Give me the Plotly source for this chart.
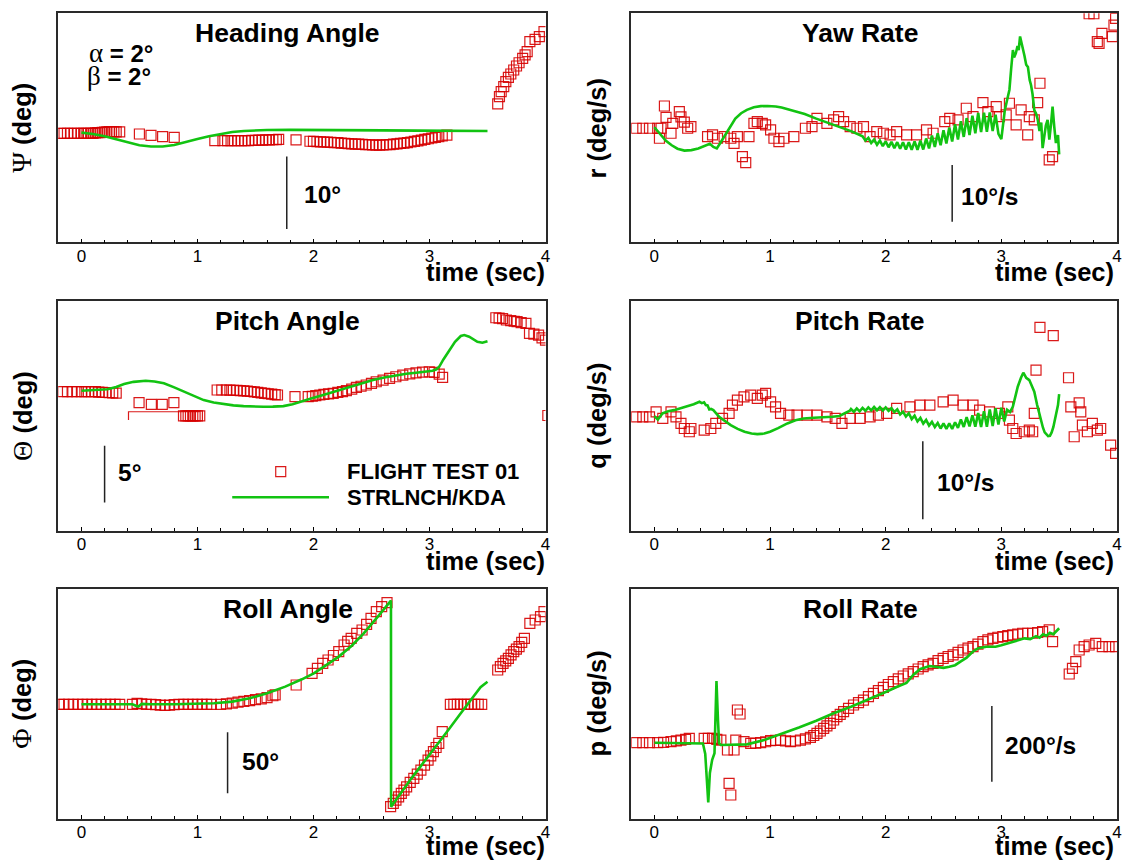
import plotly.graph_objects as go

# ================= DATA =================
# ---- Heading angle (deg) ----
psi_ft_t = [-0.18, -0.15, -0.12, -0.09, -0.06, -0.03, 0.0, 0.02, 0.04, 0.06, 0.08, 0.10, 0.12, 0.14, 0.16, 0.18,
            0.20, 0.22, 0.24, 0.26, 0.28, 0.30, 0.33,
            0.50, 0.60, 0.70, 0.80,
            1.15, 1.22, 1.26, 1.29, 1.32, 1.35, 1.38, 1.41, 1.44, 1.47, 1.50, 1.53, 1.56, 1.59, 1.62, 1.65, 1.68, 1.70,
            1.85,
            1.97, 2.00, 2.03, 2.06, 2.09, 2.12, 2.15, 2.18, 2.21, 2.24, 2.27, 2.30, 2.33, 2.36, 2.39, 2.42, 2.45, 2.48,
            2.51, 2.54, 2.57, 2.60, 2.63, 2.66, 2.69, 2.72, 2.75, 2.78, 2.81, 2.84, 2.87, 2.90, 2.93, 2.96, 2.99, 3.02,
            3.05, 3.08, 3.11, 3.15,
            3.588, 3.603, 3.618, 3.640, 3.658, 3.680, 3.701, 3.726, 3.750, 3.772, 3.803, 3.824, 3.842, 3.865, 3.910,
            3.947, 3.987]
psi_ft = [0.0, 0.0, 0.0, 0.0, 0.0, 0.0, 0.0, 0.0, 0.0, 0.0, 0.0, 0.0, 0.05, 0.08, 0.1, 0.12,
          0.15, 0.2, 0.22, 0.22, 0.22, 0.2, 0.2,
          -0.1, -0.28, -0.46, -0.55,
          -1.0, -1.0, -1.0, -1.0, -1.0, -1.0, -1.0, -1.0, -1.0, -0.98, -0.97, -0.95, -0.94, -0.92, -0.9, -0.88, -0.86, -0.85,
          -0.9,
          -1.1, -1.12, -1.15, -1.18, -1.2, -1.22, -1.25, -1.28, -1.3, -1.35, -1.38, -1.42, -1.45, -1.48, -1.5, -1.52,
          -1.55, -1.58, -1.6, -1.62, -1.62, -1.6, -1.58, -1.55, -1.5, -1.45, -1.4, -1.35, -1.28, -1.2, -1.12, -1.05,
          -0.95, -0.85, -0.75, -0.65, -0.55, -0.45, -0.35, -0.25,
          4.04, 5.04, 5.73, 6.42, 7.11, 7.71, 8.17, 8.72, 9.27, 9.72, 10.33, 10.79, 11.24, 12.62, 12.95, 13.31, 14.0]
psi_sim_t = [0.0, 0.1, 0.2, 0.3, 0.4, 0.5, 0.6, 0.7, 0.8, 0.9, 1.0, 1.1, 1.2, 1.3, 1.4, 1.5, 1.6, 1.8, 2.0, 2.3,
             2.6, 2.9, 3.2, 3.5]
psi_sim = [0.09, -0.1, -0.4, -0.85, -1.3, -1.65, -1.83, -1.82, -1.62, -1.25, -0.8, -0.4, -0.08, 0.17, 0.32, 0.41,
           0.45, 0.47, 0.47, 0.44, 0.40, 0.36, 0.33, 0.32]

# ---- Yaw rate (deg/s) ----
r_ft_t = [-0.157, -0.1, -0.042, 0.029, 0.044, 0.058, 0.087, 0.101, 0.144, 0.159, 0.216, 0.230, 0.259, 0.288, 0.316,
          0.46, 0.503, 0.546, 0.603, 0.661, 0.689, 0.718, 0.761, 0.79, 0.818, 0.861, 0.89, 0.933, 0.962, 1.005,
          1.034, 1.077, 1.12, 1.206, 1.306, 1.363, 1.406, 1.492, 1.55, 1.593, 1.636, 1.693, 1.751, 1.808, 1.865,
          1.923, 1.98, 2.038, 2.095, 2.181, 2.267, 2.353, 2.41, 2.511, 2.554, 2.626, 2.697, 2.755, 2.841, 2.884,
          2.956, 2.984, 3.042, 3.07, 3.128, 3.171, 3.228, 3.242, 3.285, 3.314, 3.334, 3.414, 3.443,
          3.759, 3.80, 3.83, 3.845, 3.87, 3.96, 3.974, 3.988]
r_ft = [0.0, 0.0, 0.0, 0.0, -1.76, 0.0, 3.93, 1.94, -0.88, 0.88, 2.93, 2.0, 1.1, 0.0, 0.3,
        -1.47, -1.18, -1.76, -1.47, -1.76, -2.65, -1.47, -5.0, -6.06, -1.47, 0.88, 1.18, 0.88, 0.59, -0.29,
        -1.76, -2.35, -1.76, -1.47, 0.0, 0.29, 1.76, 0.88, 1.47, 2.06, 1.18, 0.29, 0.0, 0.29, -1.47,
        -0.59, -0.88, -1.18, -0.59, -1.18, -1.18, -0.29, -0.88, 1.18, 1.76, 1.47, 3.53, 2.06, 4.53, 2.94,
        3.82, 2.06, 2.35, 4.41, 0.59, 3.24, -1.18, 2.06, 1.47, 4.53, 7.94, -5.59, -5.0,
        20.2, 20.2, 15.28, 14.98, 16.75, 16.16, 18.2, 19.4]
r_sim_t = [0.0, 0.05, 0.1, 0.15, 0.2, 0.26, 0.32, 0.38, 0.44, 0.48, 0.51, 0.54, 0.57, 0.62, 0.66, 0.7, 0.75, 0.8,
           0.86, 0.92, 0.98, 1.05, 1.1, 1.2, 1.3, 1.4, 1.5, 1.6, 1.7,
           1.800, 1.825, 1.850, 1.875, 1.900, 1.925, 1.950, 1.975, 2.000, 2.025, 2.050, 2.075, 2.100, 2.125, 2.150,
           2.175, 2.200, 2.225, 2.250, 2.275, 2.300, 2.325, 2.350, 2.375, 2.400, 2.425, 2.450, 2.475, 2.500, 2.525,
           2.550, 2.575, 2.600, 2.625, 2.650, 2.675, 2.700, 2.725, 2.750, 2.775, 2.800, 2.825, 2.850, 2.875, 2.900,
           2.925, 2.950, 2.975, 3.000,
           3.015, 3.03, 3.05, 3.07, 3.085, 3.1, 3.11, 3.125, 3.14, 3.15, 3.162, 3.175, 3.19, 3.2, 3.215, 3.23, 3.245,
           3.257, 3.27, 3.285, 3.3, 3.315, 3.33, 3.345, 3.357, 3.37, 3.385, 3.4, 3.415, 3.43, 3.443, 3.458, 3.472,
           3.49, 3.5]
r_sim = [0.18, -1.0, -2.2, -3.0, -3.6, -3.94, -3.85, -3.55, -3.1, -2.75, -3.3, -3.55, -2.6, -1.0, 0.5, 1.7, 2.65,
         3.25, 3.7, 3.9, 3.94, 3.85, 3.65, 3.1, 2.5, 1.7, 1.0, 0.3, -0.5,
         -1.4, -2.17, -1.7, -2.6, -2.0, -2.9, -2.15, -3.15, -2.3, -3.35, -2.4, -3.5, -2.45, -3.62, -2.45,
         -3.73, -2.45, -3.78, -2.3, -3.8, -2.2, -3.75, -1.8, -3.55, -1.3, -3.3, -0.9, -3.0, -0.35, -2.68,
         0.15, -2.32, 0.7, -1.98, 1.25, -1.52, 1.8, -1.2, 2.2, -0.9, 2.7, -0.68, 2.75, -0.6, 2.8,
         -0.5, 2.4, -1.0, -1.9,
         0.5, 3.2, 5.0, 6.8, 10.5, 13.8, 12.5, 13.2, 14.5, 13.8, 16.2, 14.8, 13.2, 12.8, 11.2, 10.8, 8.5,
         7.6, 6.0, 3.2, 2.6, 1.5, -0.5, 1.0, -3.5, -1.5, 0.5, 1.5, -2.0, 0.8, 3.8, 0.2, -2.6,
         -1.2, -4.6]

# ---- Pitch angle (deg) ----
th_ft_t = [-0.16, -0.12, -0.08, -0.04, 0.0, 0.03, 0.06, 0.09, 0.12, 0.15, 0.18, 0.21, 0.24, 0.27, 0.30,
           0.497, 0.603, 0.697, 0.797,
           0.88, 0.90, 0.92, 0.94, 0.96, 0.98, 1.00, 1.02,
           1.17, 1.21, 1.25, 1.28, 1.31, 1.34, 1.37, 1.40, 1.43, 1.46, 1.49, 1.52, 1.55, 1.58, 1.61, 1.64, 1.67, 1.69,
           1.841,
           1.955, 1.99, 2.02, 2.055, 2.09, 2.13, 2.17, 2.21, 2.25, 2.284, 2.33, 2.37, 2.41, 2.455, 2.5, 2.541, 2.6,
           2.656, 2.71, 2.77, 2.83, 2.884, 2.94, 2.998, 3.04, 3.084, 3.113,
           3.572, 3.6, 3.63, 3.663, 3.7, 3.73, 3.755, 3.79, 3.831, 3.862, 3.9, 3.94, 3.97, 4.0, 4.02]
th_ft = [0.0, 0.0, 0.0, 0.0, 0.0, 0.0, 0.0, 0.0, 0.0, -0.03, -0.05, -0.07, -0.08, -0.1, -0.12,
         -0.97, -1.12, -1.12, -0.97,
         -2.14, -2.14, -2.14, -2.14, -2.14, -2.14, -2.14, -2.14,
         0.15, 0.15, 0.15, 0.14, 0.13, 0.12, 0.1, 0.08, 0.05, 0.02, -0.02, -0.06, -0.1, -0.14, -0.18, -0.22, -0.26, -0.29,
         -0.44,
         -0.44, -0.4, -0.35, -0.29, -0.24, -0.2, -0.15, -0.06, 0.0, 0.09, 0.22, 0.38, 0.48, 0.59, 0.74, 0.88, 1.02,
         1.18, 1.32, 1.47, 1.58, 1.67, 1.72, 1.76, 1.7, 1.56, 1.27,
         6.53, 6.5, 6.45, 6.33, 6.27, 6.22, 6.18, 6.1, 6.03, 5.15, 5.08, 5.0, 4.75, 4.56, -2.1]
th_edge_t = [0.406, 0.406, 1.02]
th_edge = [-2.5, -1.77, -1.77]
th_sim_t = [0.0, 0.1, 0.225, 0.3, 0.368, 0.45, 0.554, 0.63, 0.711, 0.8, 0.883, 0.97, 1.054, 1.14, 1.226, 1.31,
            1.398, 1.48, 1.569, 1.65, 1.741, 1.82, 1.884, 1.98, 2.084, 2.2, 2.313, 2.41, 2.513, 2.61, 2.713, 2.8,
            2.884, 2.96, 3.027, 3.06, 3.084, 3.12, 3.17, 3.22, 3.27, 3.30, 3.342, 3.38, 3.413, 3.456, 3.5]
th_sim = [0.09, 0.12, 0.21, 0.42, 0.68, 0.87, 0.97, 0.9, 0.74, 0.38, 0.0, -0.38, -0.74, -0.96, -1.12, -1.21,
          -1.27, -1.31, -1.33, -1.32, -1.27, -1.1, -0.88, -0.6, -0.29, 0.08, 0.44, 0.75, 1.03, 1.26, 1.47, 1.58,
          1.67, 1.75, 1.85, 1.98, 2.2, 2.85, 3.68, 4.4, 4.92, 5.0, 4.86, 4.6, 4.41, 4.32, 4.45]

# ---- Pitch rate (deg/s) ----
q_ft_t = [-0.157, -0.1, -0.042, 0.015, 0.073, 0.144, 0.187, 0.23, 0.259, 0.302, 0.316, 0.431, 0.488, 0.531, 0.589,
          0.646, 0.675, 0.718, 0.775, 0.833, 0.89, 0.933, 0.962, 1.005, 1.048, 1.091, 1.163, 1.234, 1.32, 1.406,
          1.492, 1.564, 1.622, 1.693, 1.779, 1.865, 1.937, 2.009, 2.095, 2.21, 2.296, 2.382, 2.497, 2.583, 2.669,
          2.755, 2.812, 2.898, 2.984, 3.056, 3.07, 3.099, 3.128, 3.199, 3.242, 3.271, 3.285, 3.3, 3.334, 3.449,
          3.581, 3.601, 3.673, 3.687, 3.63, 3.701, 3.744, 3.787, 3.83, 3.859, 3.945, 3.988]
q_ft = [0.0, 0.0, 0.0, 0.64, -0.21, 0.64, 0.0, -0.85, -1.5, -1.92, -1.5, -1.71, -1.5, -0.85, -0.21,
        0.43, 1.5, 2.14, 2.56, 2.78, 2.35, 2.78, 2.99, 1.92, 1.28, 0.43, 0.21, 0.21, 0.21, 0.21,
        0.0, -0.21, -0.85, -0.21, -0.21, 0.0, 0.21, 0.43, 1.07, 1.28, 1.5, 1.5, 1.92, 2.14, 1.5,
        1.5, 0.85, 0.64, 0.43, 1.28, -0.43, -1.5, -2.14, -1.92, -1.71, -1.92, 0.43, 5.99, 11.46, 10.39,
        5.0, 1.28, 1.79, 0.64, -2.56, -1.07, -1.92, -0.85, -1.71, -1.5, -3.63, -4.7]
q_sim_t = [0.0, 0.03, 0.07, 0.12, 0.17, 0.23, 0.29, 0.34, 0.39, 0.41, 0.43, 0.445, 0.46, 0.475, 0.49, 0.51, 0.56,
           0.61, 0.66, 0.72, 0.78, 0.84, 0.89, 0.95, 1.0, 1.07, 1.15, 1.22, 1.29, 1.38, 1.46, 1.54, 1.6, 1.65, 1.69,
           1.700, 1.725, 1.750, 1.775, 1.800, 1.825, 1.850, 1.875, 1.900, 1.925, 1.950, 1.975, 2.000, 2.025, 2.050,
           2.075, 2.100, 2.125, 2.150, 2.175, 2.200, 2.225, 2.250, 2.275, 2.300, 2.325, 2.350, 2.375, 2.400, 2.425,
           2.450, 2.475, 2.500, 2.525, 2.550, 2.575, 2.600, 2.625, 2.650, 2.675, 2.700, 2.725, 2.750, 2.775, 2.800,
           2.825, 2.850, 2.875, 2.900, 2.925, 2.950, 2.975, 3.000, 3.025,
           3.05, 3.075, 3.1, 3.12, 3.142, 3.17, 3.19, 3.2, 3.215, 3.242, 3.265, 3.285, 3.31, 3.33, 3.343, 3.36,
           3.375, 3.39, 3.405, 3.42, 3.435, 3.45, 3.465, 3.48, 3.49, 3.5]
q_sim = [0.09, -0.34, 0.43, 0.7, 0.85, 1.1, 1.37, 1.6, 1.92, 1.75, 1.85, 1.5, 1.45, 0.94, 1.0, 0.85, 0.0,
         -0.55, -1.07, -1.55, -1.92, -2.15, -2.22, -2.15, -1.92, -1.45, -0.85, -0.45, -0.21, -0.12, -0.09, 0.0, 0.1,
         0.5, 0.77,
         1.0, 0.64, 1.07, 0.7, 1.14, 0.77, 1.2, 0.82, 1.25, 0.84, 1.23, 0.81, 1.2, 0.75, 1.1,
         0.6, 0.95, 0.3, 0.65, 0.02, 0.45, -0.3, 0.15, -0.6, -0.15, -0.88, -0.4, -1.13, -0.65, -1.32,
         -0.8, -1.5, -0.85, -1.55, -0.85, -1.55, -0.7, -1.43, -0.35, -1.3, -0.05, -1.23, 0.2, -1.26, 0.48,
         -1.31, 0.7, -1.27, 0.95, -1.18, 1.1, -0.98, 1.15, -0.6,
         0.9, 0.6, 1.3, 2.4, 3.85, 5.0, 5.64, 5.4, 5.0, 4.7, 3.9, 3.21, 1.5, 0.2, -0.43, -1.4,
         -2.0, -2.3, -2.48, -2.45, -2.0, -1.3, -0.3, 0.8, 1.5, 2.9]

# ---- Roll angle (deg) ----
phi_ft_t = [-0.19, -0.15, -0.11, -0.07, -0.03, 0.01, 0.05, 0.09, 0.13, 0.17, 0.21, 0.25, 0.29, 0.33,
            0.44, 0.48, 0.52, 0.56, 0.60, 0.64, 0.68, 0.72, 0.76, 0.80, 0.84, 0.88, 0.92, 0.96, 1.00, 1.04, 1.08, 1.12,
            1.20, 1.25, 1.30, 1.35, 1.40, 1.45, 1.50, 1.55, 1.60, 1.65, 1.67,
            1.851,
            1.988, 2.034, 2.08, 2.126, 2.172, 2.218, 2.264, 2.295, 2.325, 2.373, 2.419, 2.458, 2.496, 2.542, 2.588,
            2.634,
            2.665, 2.688, 2.711, 2.734, 2.757, 2.78, 2.803, 2.834, 2.865, 2.895, 2.926, 2.957, 2.988, 3.011, 3.034,
            3.057, 3.08, 3.11,
            3.18, 3.21, 3.24, 3.27, 3.30, 3.33, 3.36, 3.39, 3.42, 3.45,
            3.588, 3.611, 3.634, 3.657, 3.68, 3.703, 3.726, 3.749, 3.772, 3.795, 3.818, 3.865, 3.911, 3.957, 3.987]
phi_ft = [0.0, 0.0, 0.0, 0.0, 0.0, 0.0, 0.0, 0.0, 0.0, 0.0, 0.0, 0.0, 0.0, 0.0,
          0.0, 0.8, 0.4, 0.0, 0.0, -0.3, -0.6, -1.0, -0.6, -0.3, 0.0, 0.0, 0.0, 0.0, 0.0, 0.0, 0.0, 0.0,
          0.0, 0.4, 1.0, 1.7, 2.4, 3.0, 3.8, 4.5, 5.5, 7.0, 7.8,
          15.8,
          25.4, 29.5, 33.6, 36.3, 40.0, 43.2, 48.6, 51.5, 54.1, 58.2, 60.9, 65.5, 70.5, 75.9, 80.0,
          83.3,
          -83.9, -81.2, -78.5, -75.8, -73.0, -70.3, -67.6, -64.0, -60.7, -57.3, -53.9, -49.8, -45.7, -42.2, -38.8,
          -35.4, -32.0, -22.4,
          0.0, 0.0, 0.0, 0.0, 0.0, 0.0, 0.0, 0.0, 0.0, 0.0,
          28.1, 30.9, 33.6, 35.6, 37.7, 40.5, 43.2, 45.2, 47.3, 50.7, 54.1, 66.4, 69.1, 71.8, 75.9]
phi_sim_t = [0.0, 0.2, 0.44, 0.47, 0.49, 0.52, 0.6, 0.8, 1.0, 1.143, 1.3, 1.45, 1.6, 1.757, 1.9, 2.003, 2.1, 2.218,
             2.33, 2.433, 2.555, 2.668, 2.669, 2.75, 2.834, 2.91, 2.988, 3.08, 3.172, 3.26, 3.356, 3.44, 3.5]
phi_sim = [0.0, 0.0, 0.0, -1.2, -1.9, 0.3, 0.0, 0.0, 0.2, 0.8, 2.2, 4.9, 9.0, 14.5, 20.5, 25.4, 31.5, 39.1,
           48.0, 58.2, 71.9, 85.0, -84.0, -73.0, -62.1, -52.5, -43.0, -31.5, -19.8, -8.5, 3.5, 14.0, 18.5]

# ---- Roll rate (deg/s) ----
p_ft_t = [-0.157, -0.1, -0.042, 0.029, 0.08, 0.144, 0.19, 0.23, 0.27, 0.302, 0.431, 0.467, 0.503, 0.54, 0.575,
          0.632, 0.689, 0.646, 0.661, 0.718, 0.741, 0.704, 0.775, 0.833, 0.876, 0.919, 0.962, 1.005, 1.048, 1.091,
          1.134, 1.177, 1.22, 1.263, 1.306, 1.349, 1.378, 1.406, 1.435, 1.464, 1.492, 1.521, 1.55, 1.579, 1.607,
          1.636, 1.679, 1.722, 1.765, 1.808, 1.851, 1.894, 1.937, 1.98, 2.023, 2.066, 2.109, 2.152, 2.195, 2.238,
          2.281, 2.324, 2.367, 2.41, 2.453, 2.497, 2.54, 2.583, 2.626, 2.669, 2.712, 2.755, 2.798, 2.841, 2.884,
          2.927, 2.97, 3.013, 3.056, 3.099, 3.142, 3.185, 3.228, 3.271, 3.314, 3.357, 3.414, 3.443,
          3.587, 3.615, 3.644, 3.673, 3.716, 3.759, 3.816, 3.873, 3.931, 3.988]
p_ft = [0.0, 0.0, 0.0, 0.0, 1.0, 2.6, 5.0, 7.0, 9.0, 11.5, 11.5, 11.5, 11.5, 9.0, 7.0,
        -19.3, -19.3, -107.4, -138.3, 86.5, 75.9, 7.0, 2.6, -1.8, -1.0, 0.0, 2.5, 5.3, 6.0, 7.0,
        5.0, 2.6, 4.5, 7.0, 10.0, 14.1, 19.0, 24.7, 31.0, 37.9, 44.5, 51.1, 60.0, 68.8, 75.0,
        82.0, 91.0, 99.7, 106.0, 112.9, 122.0, 130.6, 138.0, 146.5, 154.0, 161.5, 169.0, 176.5, 182.0, 188.0,
        195.0, 201.2, 206.0, 210.0, 217.0, 223.3, 228.0, 232.1, 239.0, 245.3, 250.0, 254.1, 261.0, 267.4, 272.0,
        276.2, 279.0, 280.6, 283.0, 285.0, 287.0, 289.5, 289.5, 289.5, 291.5, 293.9, 298.3, 267.4,
        181.7, 196.7, 214.4, 245.3, 254.1, 258.5, 262.9, 254.1, 254.1, 254.1]
p_sim_t = [0.0, 0.1, 0.2, 0.3, 0.4, 0.42, 0.44, 0.466, 0.48, 0.50, 0.52, 0.537, 0.55, 0.56, 0.575, 0.65, 0.8, 0.95,
           1.1, 1.25, 1.4, 1.55, 1.7, 1.85, 2.0, 2.1, 2.18, 2.24, 2.3, 2.38, 2.45, 2.5, 2.55, 2.6, 2.65, 2.7, 2.75,
           2.8, 2.87, 2.95, 3.0, 3.05, 3.1, 3.15, 3.2, 3.25, 3.3, 3.33, 3.36, 3.39, 3.42, 3.45, 3.48, 3.5]
p_sim = [0.0, 0.0, 0.0, 0.0, 0.0, -2.0, -30.0, -157.7, -80.0, -45.0, -28.0, 163.2, 60.0, -1.8, -6.2, -5.5, -4.4, 7.0,
         23.0, 40.0, 58.0, 78.0, 95.0, 114.0, 134.0, 148.0, 158.0, 180.0, 195.0, 203.0, 201.0, 198.0, 201.0, 205.0,
         215.0, 225.0, 240.0, 250.0, 254.0, 254.0, 258.0, 263.0, 267.0, 271.0, 276.0, 274.0, 282.0, 278.0, 287.0,
         283.0, 291.0, 287.0, 296.0, 302.7]

# ================= STYLE / LAYOUT =================
FONT = "Liberation Sans, Arial, Helvetica, sans-serif"
SERIF = "Liberation Serif, Times New Roman, serif"
RED = "rgba(214,0,0,0.9)"
GREEN = "#12c312"

xdom = {"L": [0.0520, 0.4875], "R": [0.5641, 0.9982]}
ydom = {1: [0.7184, 0.98455], 2: [0.38362, 0.65006], 3: [0.04936, 0.31591]}

panels = [
    dict(col="L", row=1, title="Heading Angle", sym="Ψ", unit="(deg)", yr=[-15.04, 16.53],
         ft=(psi_ft_t, psi_ft), sim=(psi_sim_t, psi_sim), bar=(1.77, -3.2, -13.2), lab=("10°", 1.903, -8.5)),
    dict(col="R", row=1, title="Yaw Rate", sym="r", unit="(deg/s)", yr=[-20.14, 20.28],
         ft=(r_ft_t, r_ft), sim=(r_sim_t, r_sim), bar=(2.575, -6.47, -16.47), lab=("10°/s", 2.633, -12.06)),
    dict(col="L", row=2, title="Pitch Angle", sym="Θ", unit="(deg)", yr=[-12.27, 7.98],
         ft=(th_ft_t, th_ft), sim=(th_sim_t, th_sim), bar=(0.2, -4.77, -9.77), lab=("5°", 0.298, -7.15)),
    dict(col="R", row=2, title="Pitch Rate", sym="q", unit="(deg/s)", yr=[-14.6, 14.8],
         ft=(q_ft_t, q_ft), sim=(q_sim_t, q_sim), bar=(2.321, -3.12, -13.12), lab=("10°/s", 2.424, -8.46)),
    dict(col="L", row=3, title="Roll Angle", sym="Φ", unit="(deg)", yr=[-93.6, 94.5],
         ft=(phi_ft_t, phi_ft), sim=(phi_sim_t, phi_sim), bar=(1.26, -22.95, -72.95), lab=("50°", 1.365, -46.5)),
    dict(col="R", row=3, title="Roll Rate", sym="p", unit="(deg/s)", yr=[-200.5, 406.6],
         ft=(p_ft_t, p_ft), sim=(p_sim_t, p_sim), bar=(2.918, 97.1, -103.2), lab=("200°/s", 3.013, -7.9)),
]

fig = go.Figure()
layout = dict(width=1124, height=861, margin=dict(l=0, r=0, t=0, b=0),
              paper_bgcolor="white", plot_bgcolor="white", showlegend=False,
              font=dict(family=FONT, color="black"))
annotations = []
shapes = []

for i, p in enumerate(panels, start=1):
    xa = "x" if i == 1 else f"x{i}"
    ya = "y" if i == 1 else f"y{i}"
    sfx = "" if i == 1 else str(i)
    layout["xaxis" + sfx] = dict(
        domain=xdom[p["col"]], anchor=ya, range=[-0.2, 4.0],
        tickvals=[0, 1, 2, 3, 4], ticktext=["0", "1", "2", "3", "4"],
        ticks="inside", ticklen=4, tickwidth=1, tickcolor="black", ticklabelstandoff=-3,
        minor=dict(dtick=0.2, tick0=0, ticks="inside", ticklen=3, tickwidth=1, tickcolor="black"),
        showline=True, mirror=True, linecolor="#2a2a2a", linewidth=1.5,
        showgrid=False, zeroline=False, tickfont=dict(size=17, family=FONT, color="black"))
    layout["yaxis" + sfx] = dict(
        domain=ydom[p["row"]], anchor=xa, range=p["yr"],
        showticklabels=False, ticks="", showline=True, mirror=True,
        linecolor="#2a2a2a", linewidth=1.5, showgrid=False, zeroline=False)

    # flight test squares
    fig.add_trace(go.Scatter(x=p["ft"][0], y=p["ft"][1], xaxis=xa, yaxis=ya, mode="markers",
                             marker=dict(symbol="square-open", size=10, color=RED, line=dict(width=1.2, color=RED)),
                             name="FLIGHT TEST 01", hoverinfo="skip"))
    if i == 3:
        fig.add_trace(go.Scatter(x=th_edge_t, y=th_edge, xaxis=xa, yaxis=ya, mode="lines",
                                 line=dict(color=RED, width=1.2), hoverinfo="skip"))
    # simulation line
    fig.add_trace(go.Scatter(x=p["sim"][0], y=p["sim"][1], xaxis=xa, yaxis=ya, mode="lines",
                             line=dict(color=GREEN, width=2.6), name="STRLNCH/KDA", hoverinfo="skip"))

    # title
    annotations.append(dict(text="<b>%s</b>" % p["title"], xref=xa, x=1.78, yref=ya + " domain", y=1,
                            yshift=-20, xanchor="center", yanchor="middle", showarrow=False,
                            font=dict(size=26.5, family=FONT, color="black")))
    # time label
    annotations.append(dict(text="<b>time (sec)</b>", xref=xa + " domain", x=1, yref=ya + " domain", y=0,
                            xshift=(1 if p["col"] == "L" else -1), yshift=(-27 if p["row"] == 3 else -30),
                            xanchor="right", yanchor="middle", showarrow=False,
                            font=dict(size=25.5, family=FONT, color="black")))
    # y title
    if p["sym"] in ("Ψ", "Θ", "Φ"):
        ytxt = "<span style='font-family:%s;font-size:28px'>%s</span> <b>%s</b>" % (SERIF, p["sym"], p["unit"])
    else:
        ytxt = "<b>%s %s</b>" % (p["sym"], p["unit"])
    yd = ydom[p["row"]]
    annotations.append(dict(text=ytxt, xref="paper", x=(22 / 1124 if p["col"] == "L" else 599.4 / 1124),
                            yref="paper", y=(yd[0] + yd[1]) / 2, textangle=-90, xanchor="center",
                            yanchor="middle", showarrow=False, font=dict(size=25.5, family=FONT, color="black")))
    # scale bar
    bt, b0, b1 = p["bar"]
    shapes.append(dict(type="line", xref=xa, yref=ya, x0=bt, x1=bt, y0=b0, y1=b1,
                       line=dict(color="#222222", width=1.5)))
    lt, lx, ly = p["lab"]
    annotations.append(dict(text="<b>%s</b>" % lt, xref=xa, x=lx, yref=ya, y=ly, xanchor="left",
                            yanchor="middle", showarrow=False, font=dict(size=24.5, family=FONT, color="black")))

# alpha / beta labels
annotations.append(dict(text="<span style='font-family:%s;font-size:27px'>α</span><b> = 2°</b>" % SERIF,
                        xref="paper", x=87 / 1124, yref="paper", y=1 - 53 / 861, xanchor="left",
                        yanchor="middle", showarrow=False, font=dict(size=24, family=FONT, color="black")))
annotations.append(dict(text="<span style='font-family:%s;font-size:27px'>β</span><b> = 2°</b>" % SERIF,
                        xref="paper", x=85 / 1124, yref="paper", y=1 - 76 / 861, xanchor="left",
                        yanchor="middle", showarrow=False, font=dict(size=24, family=FONT, color="black")))

# legend (inside Pitch Angle panel)
shapes.append(dict(type="rect", xref="x3", yref="y3", xsizemode="pixel", ysizemode="pixel",
                   xanchor=1.718, yanchor=-7.06, x0=-5, x1=5, y0=-5, y1=5,
                   line=dict(color=RED, width=1.2), fillcolor="rgba(0,0,0,0)"))
shapes.append(dict(type="line", xref="x3", yref="y3", x0=1.30, x1=2.134, y0=-9.32, y1=-9.32,
                   line=dict(color=GREEN, width=2.6)))
annotations.append(dict(text="<b>FLIGHT TEST 01</b>", xref="x3", x=2.275, yref="y3", y=-7.06, xanchor="left",
                        yanchor="middle", showarrow=False, font=dict(size=22, family=FONT, color="black")))
annotations.append(dict(text="<b>STRLNCH/KDA</b>", xref="x3", x=2.275, yref="y3", y=-9.32, xanchor="left",
                        yanchor="middle", showarrow=False, font=dict(size=22, family=FONT, color="black")))

layout["annotations"] = annotations
layout["shapes"] = shapes
fig.update_layout(**layout)
fig.write_html("out.html")
